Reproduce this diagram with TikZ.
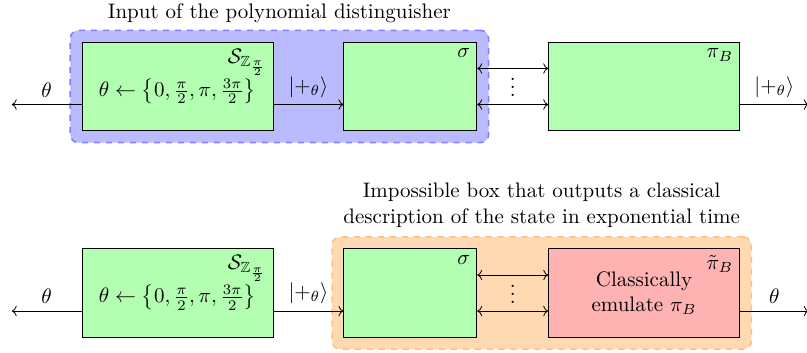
\RequirePackage{fix-cm}
\documentclass[tikz,border=0pt]{standalone}
\usepackage{amsmath,amssymb}
\usetikzlibrary{arrows.meta, positioning, calc, fit, backgrounds}

\tikzset{
    % Node styles
    stagebox/.style={
        rectangle,
        draw=black,
        fill=green!30,
        minimum width=3.36cm,
        minimum height=1.56cm,
        text centered,
        inner sep=0pt
    },
    sigmabox/.style={
        stagebox,
        minimum width=2.34cm
    },
    emulbox/.style={
        stagebox,
        fill=red!30,
        align=center
    },
    cornerlabel/.style={
        anchor=north east
    },
    dotsnode/.style={
        inner sep=0pt,
        yshift=2.5pt
    },
    % Background styles
    inputbg/.style={
        rectangle,
        draw=blue!50,
        fill=blue!27,
        dashed,
        thick,
        rounded corners=4pt,
        inner sep=0.2cm
    },
    impossiblebg/.style={
        rectangle,
        draw=orange!50,
        fill=orange!30,
        dashed,
        thick,
        rounded corners=4pt,
        inner sep=0.2cm
    },
    % Arrow styles
    myarrow/.style={->},
    twoarrow/.style={<->}
}

\begin{document}
\begin{tikzpicture}[font=\fontsize{10.5pt}{12.6pt}\selectfont]
    \useasboundingbox (0,0) rectangle (14.2,-6.194);

    % Top row: the distinguisher
    \node[stagebox] (samp1) at (3.124,-1.522) {};
    \node[sigmabox, right=1.232cm of samp1] (sig1) {};
    \node[stagebox, right=1.249cm of sig1] (piB1) {};
    \node (samp1txt) at ([yshift=-0.08cm]samp1.center) {$\theta \leftarrow \left\{0, \frac{\pi}{2}, \pi, \frac{3\pi}{2}\right\}$};
    \node[cornerlabel] (samp1lab) at (samp1.north east) {$\mathcal{S}_{\mathbb{Z}_{\frac{\pi}{2}}}$};
    \node[cornerlabel] (sig1lab) at (sig1.north east) {$\sigma$};
    \node[cornerlabel] (piB1lab) at (piB1.north east) {$\pi_B$};

    \begin{scope}[on background layer]
        \node[inputbg, fit=(samp1)(sig1)] (bg1) {};
    \end{scope}
    \node[above=0pt of bg1] (title1) {Input of the polynomial distinguisher};

    % Top row: wires
    \coordinate[left=1.23cm of samp1.south west, yshift=0.47cm] (outL1);
    \coordinate[right=1.21cm of piB1.south east, yshift=0.47cm] (outR1);
    \draw[myarrow] ([yshift=0.47cm]samp1.south west) -- (outL1) node[midway, above] {$\theta$};
    \draw[myarrow] ([yshift=0.47cm]samp1.south east) -- ([yshift=0.47cm]sig1.south west) node[midway, above] {$|+_\theta\rangle$};
    \draw[twoarrow] ([yshift=-0.47cm]sig1.north east) -- ([yshift=-0.47cm]piB1.north west);
    \draw[twoarrow] ([yshift=0.47cm]sig1.south east) -- ([yshift=0.47cm]piB1.south west);
    \node[dotsnode] (dots1) at ($(sig1.east)!0.5!(piB1.west)$) {$\vdots$};
    \draw[myarrow] ([yshift=0.47cm]piB1.south east) -- (outR1) node[midway, above] {$|+_\theta\rangle$};

    % Bottom row: the impossible box
    \node[stagebox] (samp2) at (3.124,-5.156) {};
    \node[sigmabox, right=1.232cm of samp2] (sig2) {};
    \node[emulbox, right=1.249cm of sig2] (piB2) {Classically\\emulate $\pi_B$};
    \node (samp2txt) at ([yshift=-0.08cm]samp2.center) {$\theta \leftarrow \left\{0, \frac{\pi}{2}, \pi, \frac{3\pi}{2}\right\}$};
    \node[cornerlabel] (samp2lab) at (samp2.north east) {$\mathcal{S}_{\mathbb{Z}_{\frac{\pi}{2}}}$};
    \node[cornerlabel] (sig2lab) at (sig2.north east) {$\sigma$};
    \node[cornerlabel] (piB2lab) at (piB2.north east) {$\tilde{\pi}_B$};

    \begin{scope}[on background layer]
        \node[impossiblebg, fit=(sig2)(piB2)] (bg2) {};
    \end{scope}
    \node[above=1pt of bg2, align=center] (title2) {Impossible box that outputs a classical\\description of the state in exponential time};

    % Bottom row: wires
    \coordinate[left=1.23cm of samp2.south west, yshift=0.47cm] (outL2);
    \coordinate[right=1.21cm of piB2.south east, yshift=0.47cm] (outR2);
    \draw[myarrow] ([yshift=0.47cm]samp2.south west) -- (outL2) node[midway, above] {$\theta$};
    \draw[myarrow] ([yshift=0.47cm]samp2.south east) -- ([yshift=0.47cm]sig2.south west) node[midway, above] {$|+_\theta\rangle$};
    \draw[twoarrow] ([yshift=-0.47cm]sig2.north east) -- ([yshift=-0.47cm]piB2.north west);
    \draw[twoarrow] ([yshift=0.47cm]sig2.south east) -- ([yshift=0.47cm]piB2.south west);
    \node[dotsnode] (dots2) at ($(sig2.east)!0.5!(piB2.west)$) {$\vdots$};
    \draw[myarrow] ([yshift=0.47cm]piB2.south east) -- (outR2) node[midway, above] {$\theta$};
\end{tikzpicture}
\end{document}
